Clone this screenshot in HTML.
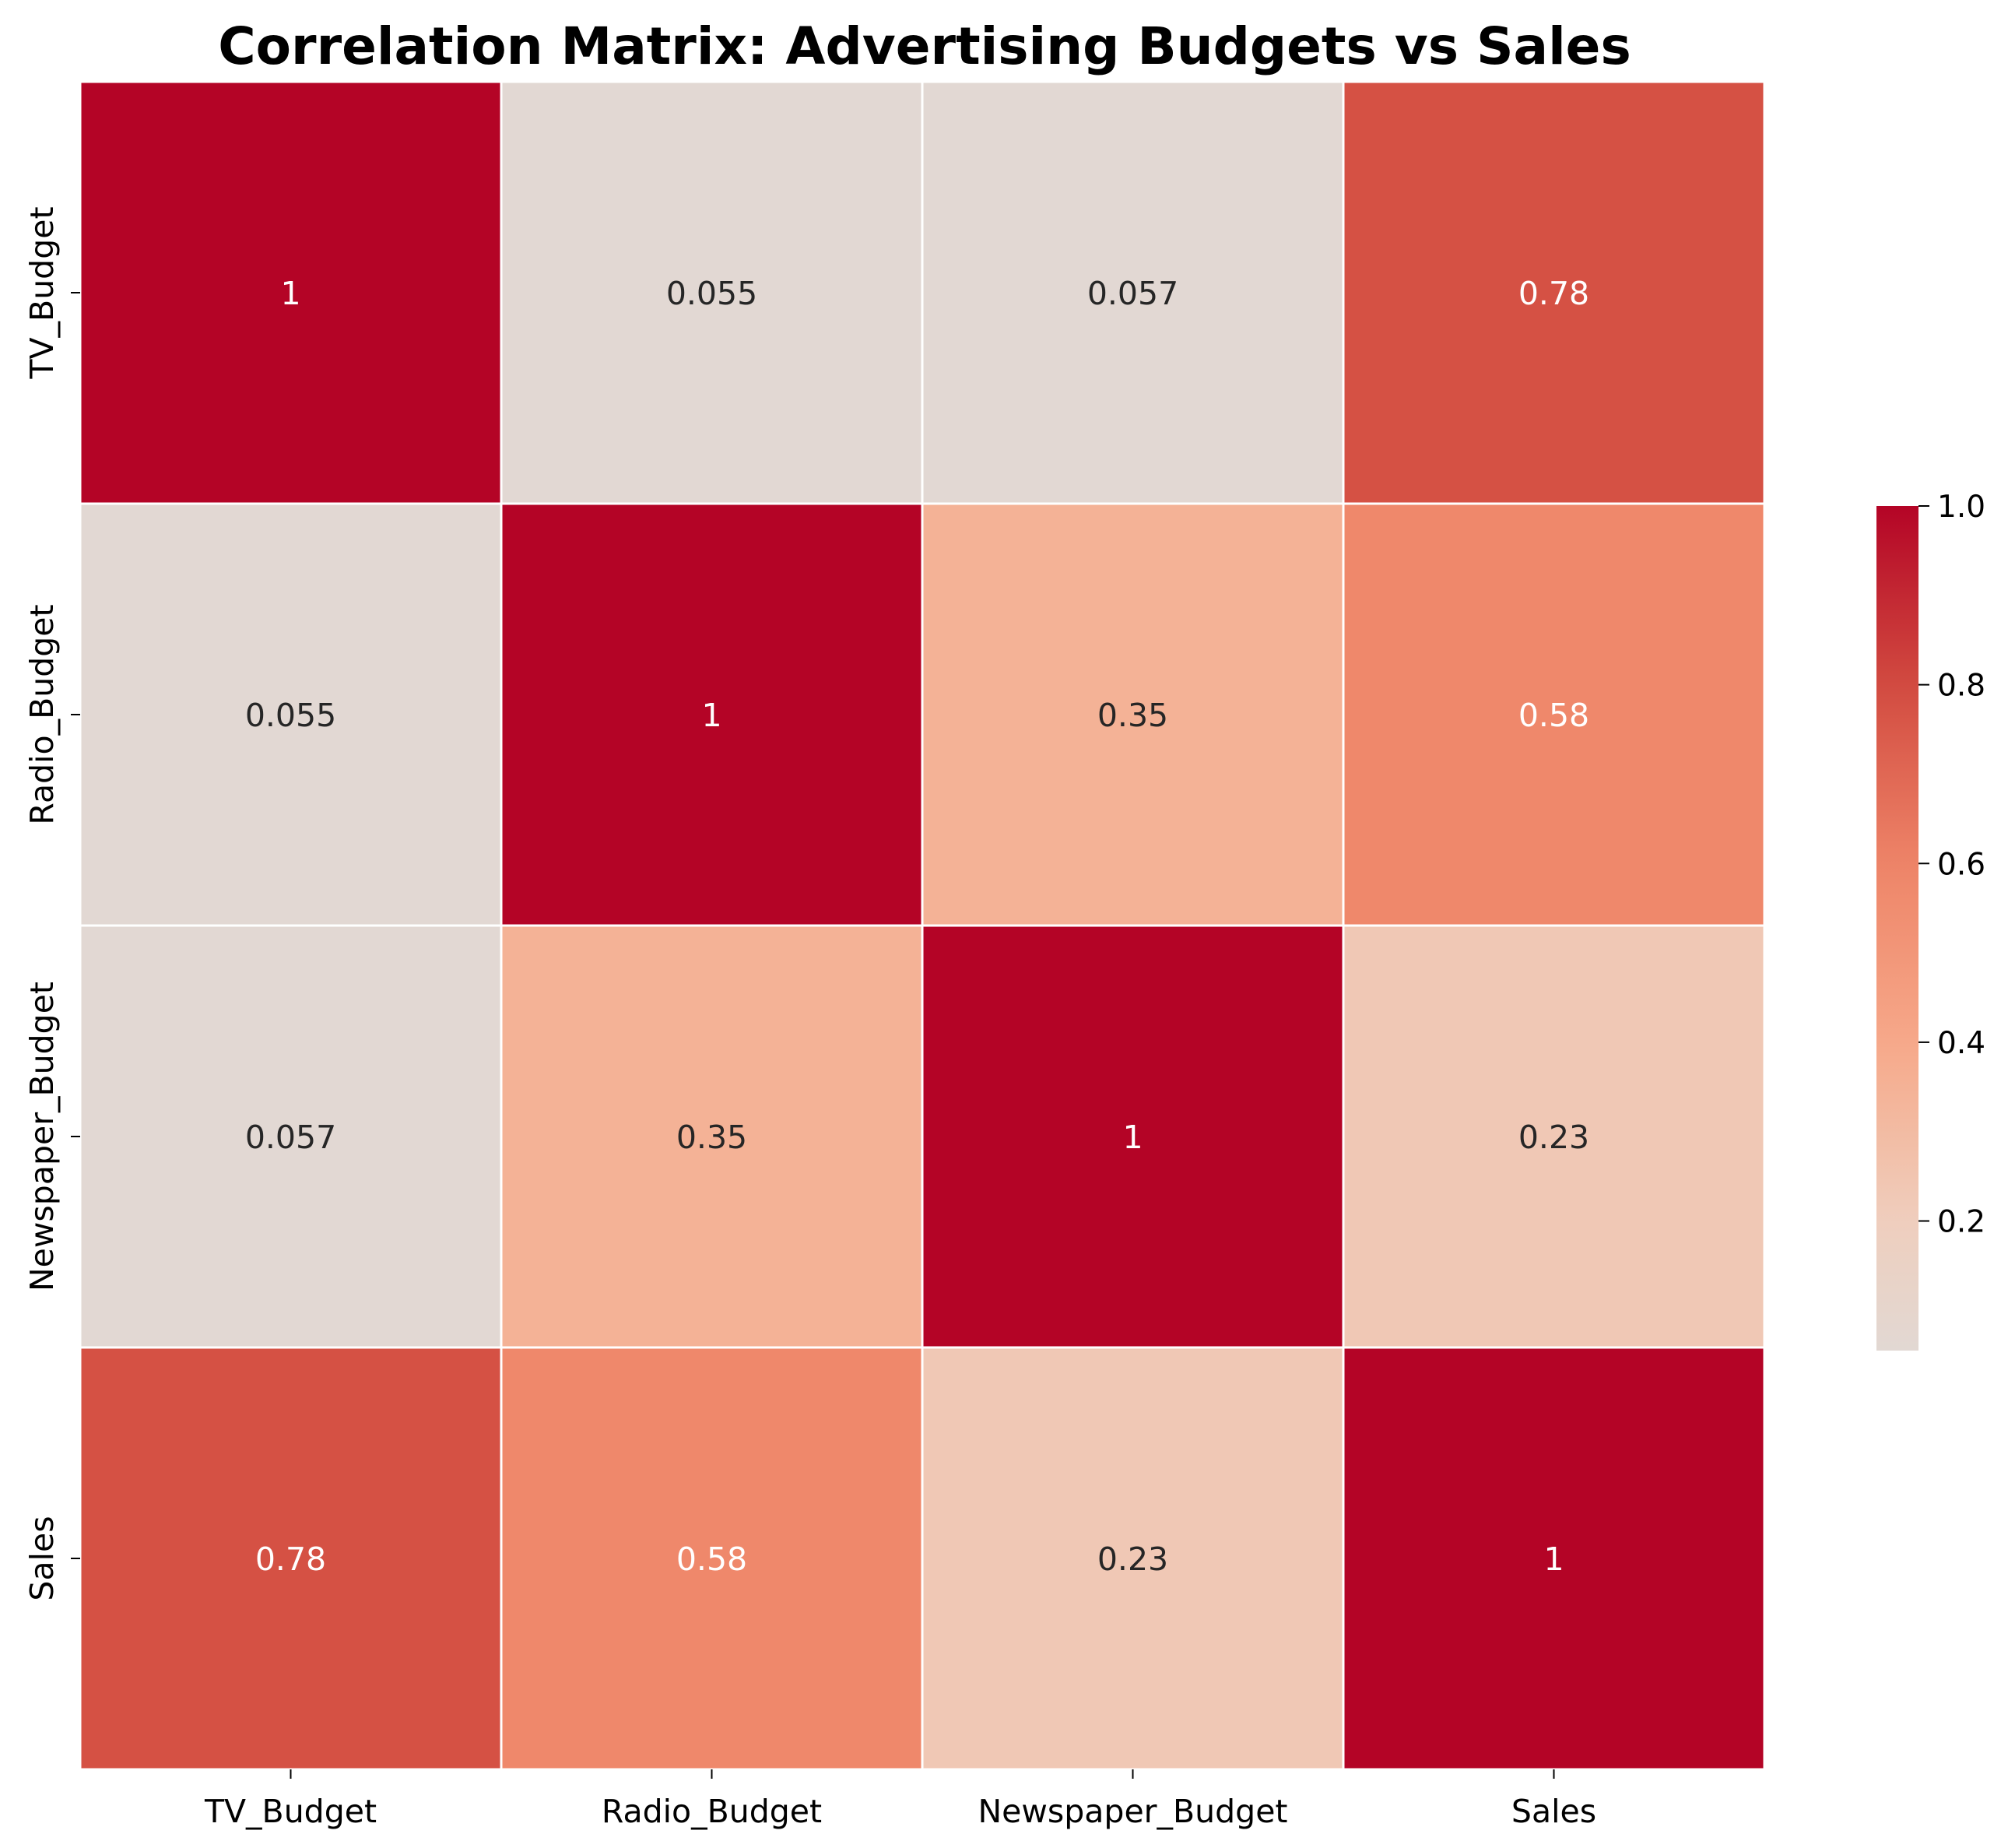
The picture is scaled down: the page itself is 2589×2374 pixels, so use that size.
<!DOCTYPE html>
<html><head><meta charset="utf-8"><style>
html,body{margin:0;padding:0;background:#fff;}
svg{display:block;font-family:"DejaVu Sans","Liberation Sans",sans-serif;}
</style></head><body>
<svg id="chart" width="2589" height="2374" viewBox="0 0 2589 2374" xmlns="http://www.w3.org/2000/svg">
<defs>
<linearGradient id="cbgrad" x1="0" y1="1" x2="0" y2="0"></linearGradient>
</defs>
<text x="1188" y="82" text-anchor="middle" font-size="66" font-weight="bold" fill="#000">Correlation Matrix: Advertising Budgets vs Sales</text>
<g id="cells"></g>
<g id="annots"></g>
<g id="xaxis"></g>
<g id="yaxis"></g>
<g id="colorbar"></g>
</svg>
<script>
const labels = ["TV_Budget","Radio_Budget","Newspaper_Budget","Sales"];
const row0 = [1, 0.055, 0.057, 0.78];
const row1 = [0.055, 1, 0.35, 0.58];
const row2 = [0.057, 0.35, 1, 0.23];
const row3 = [0.78, 0.58, 0.23, 1];
const annot0 = ["1","0.055","0.057","0.78"];
const annot1 = ["0.055","1","0.35","0.58"];
const annot2 = ["0.057","0.35","1","0.23"];
const annot3 = ["0.78","0.58","0.23","1"];
const cbTicks = [0.2,0.4,0.6,0.8,1.0];
const cbTickLabels = ["0.2","0.4","0.6","0.8","1.0"];

const rows=[row0,row1,row2,row3], annots=[annot0,annot1,annot2,annot3];
const NS="http://www.w3.org/2000/svg";
const L=103,R=2267,T=105,B=2273;
const n=labels.length, cw=(R-L)/n, ch=(B-T)/n;
const xPos=i=>L+i*cw, yPos=j=>T+j*ch;
const allVals=rows.flat();
const vmin=Math.min(...allVals), vmax=Math.max(...allVals);
const stops=[[0,[221,220,220]],[0.2,[239,206,189]],[0.4,[246,168,137]],[0.6,[238,132,104]],[0.8,[210,75,64]],[1,[180,4,38]]];
function color(v){
  v=Math.max(0,Math.min(1,v));
  for(let k=1;k<stops.length;k++){
    if(v<=stops[k][0]){
      const a=stops[k-1],b=stops[k],t=(v-a[0])/(b[0]-a[0]);
      const c=a[1].map((x,i)=>Math.round(x+(b[1][i]-x)*t));
      return `rgb(${c[0]},${c[1]},${c[2]})`;
    }
  }
  return "rgb(180,4,38)";
}
function mk(tag,attrs,parent){const e=document.createElementNS(NS,tag);for(const k in attrs)e.setAttribute(k,attrs[k]);parent.appendChild(e);return e;}
const gc=document.getElementById('cells'), ga=document.getElementById('annots');
rows.forEach((r,j)=>r.forEach((v,i)=>{
  const rc=mk('rect',{x:xPos(i),y:yPos(j),width:cw,height:ch,fill:color(v),stroke:'#fff','stroke-width':3},gc);
  
  
  const t=mk('text',{x:xPos(i)+cw/2,y:yPos(j)+ch/2+15,'text-anchor':'middle','font-size':41,fill:v>=0.5?'#fff':'#262626'},ga);
  t.textContent=annots[j][i];
  
  
}));
const gx=document.getElementById('xaxis'), gy=document.getElementById('yaxis');
labels.forEach((lab,i)=>{
  const cx=xPos(i)+cw/2;
  mk('line',{x1:cx,y1:B,x2:cx,y2:B+12,stroke:'#000','stroke-width':2},gx);
  const t=mk('text',{x:cx,y:B+68,'text-anchor':'middle','font-size':41,fill:'#000'},gx);
  t.textContent=lab;
  
  
  const cy=yPos(i)+ch/2;
  mk('line',{x1:L-12,y1:cy,x2:L,y2:cy,stroke:'#000','stroke-width':2},gy);
  const u=mk('text',{x:0,y:0,'text-anchor':'middle','font-size':41,fill:'#000',transform:`translate(68,${cy}) rotate(-90)`},gy);
  u.textContent=lab;
  
  
});
// colorbar
const cbL=2411,cbR=2465,cbT=650,cbB=1735;
const cbY=v=>cbB-(v-vmin)/(vmax-vmin)*(cbB-cbT);
const grad=document.getElementById('cbgrad');
for(let k=0;k<=20;k++){const v=vmin+(vmax-vmin)*k/20;mk('stop',{offset:(k/20),'stop-color':color(v)},grad);}
const gb=document.getElementById('colorbar');
const cbr=mk('rect',{x:cbL,y:cbT,width:cbR-cbL,height:cbB-cbT,fill:'url(#cbgrad)'},gb);


cbTicks.forEach((v,k)=>{
  const y=cbY(v);
  mk('line',{x1:cbR,y1:y,x2:cbR+14,y2:y,stroke:'#000','stroke-width':2},gb);
  const t=mk('text',{x:cbR+24,y:y+14,'font-size':39,fill:'#000'},gb);
  t.textContent=cbTickLabels[k];
  
  
});
</script>
</body></html>
